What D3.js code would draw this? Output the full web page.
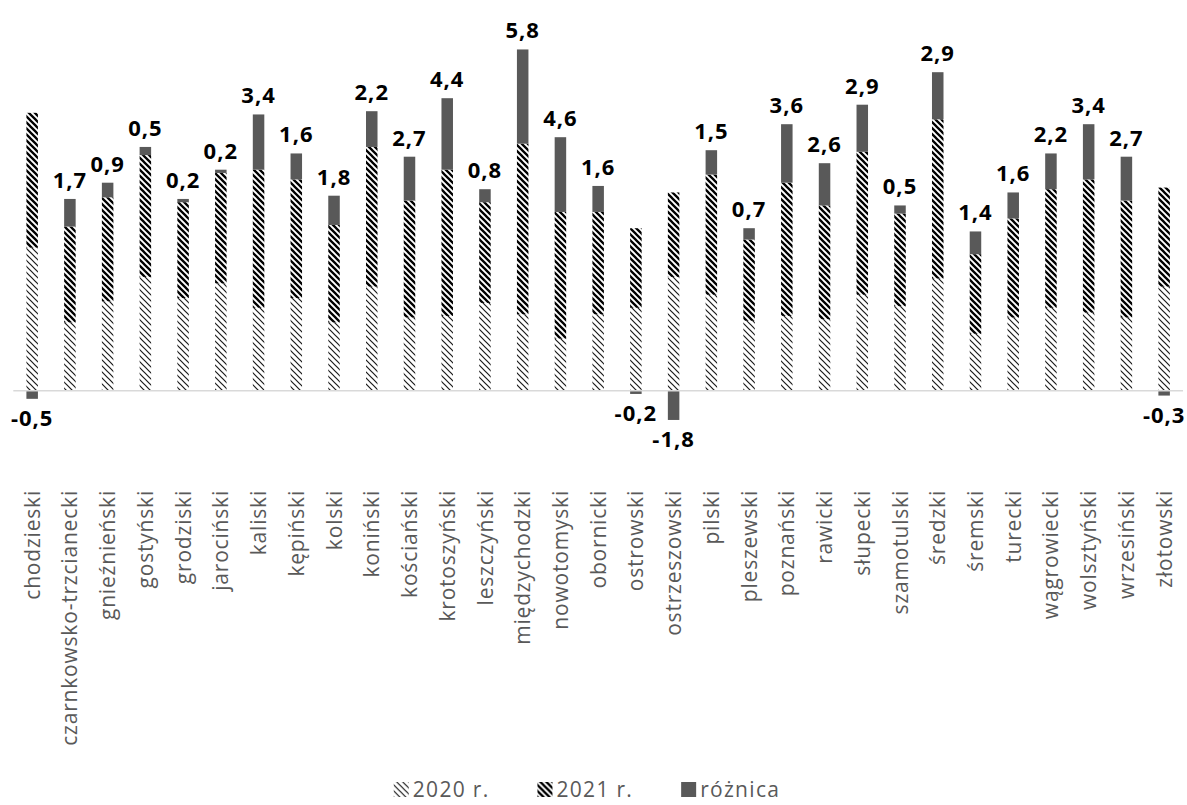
<!DOCTYPE html>
<html lang="pl">
<head>
<meta charset="utf-8">
<script src="https://cdn.jsdelivr.net/npm/d3@7"></script>
<style>
  html, body { margin: 0; padding: 0; background: #fff; }
  svg { display: block; }
</style>
</head>
<body>
<svg id="chart" width="1187" height="805"></svg>
<script>
// Powiaty
const categories = [
  "chodzieski", "czarnkowsko-trzcianecki", "gnieźnieński", "gostyński", "grodziski",
  "jarociński", "kaliski", "kępiński", "kolski", "koniński", "kościański",
  "krotoszyński", "leszczyński", "międzychodzki", "nowotomyski", "obornicki",
  "ostrowski", "ostrzeszowski", "pilski", "pleszewski", "poznański", "rawicki",
  "słupecki", "szamotulski", "średzki", "śremski", "turecki", "wągrowiecki",
  "wolsztyński", "wrzesiński", "złotowski"
];

const v2020 = [8.8, 4.2, 5.5, 7.0, 5.7, 6.6, 5.1, 5.7, 4.2, 6.4, 4.5, 4.6, 5.4, 4.7, 3.2, 4.7,
               5.1, 7.0, 5.9, 4.3, 4.6, 4.4, 5.9, 5.2, 6.9, 3.5, 4.5, 5.1, 4.8, 4.5, 6.4];
const v2021 = [8.3, 5.9, 6.4, 7.5, 5.9, 6.8, 8.5, 7.3, 6.0, 8.6, 7.2, 9.0, 6.2, 10.5, 7.8, 6.3,
               4.9, 5.2, 7.4, 5.0, 8.2, 7.0, 8.8, 5.7, 9.8, 4.9, 6.1, 7.3, 8.2, 7.2, 6.1];
const roznica = [-0.5, 1.7, 0.9, 0.5, 0.2, 0.2, 3.4, 1.6, 1.8, 2.2, 2.7, 4.4, 0.8, 5.8, 4.6, 1.6,
                 -0.2, -1.8, 1.5, 0.7, 3.6, 2.6, 2.9, 0.5, 2.9, 1.4, 1.6, 2.2, 3.4, 2.7, -0.3];

const seriesNames = ["2020 r.", "2021 r.", "różnica"];

const svg = d3.select("#chart");
const defs = svg.append("defs");

// downward diagonal hatch fills
function hatch(id, width, color) {
  const s = 6;
  const p = defs.append("pattern")
    .attr("id", id)
    .attr("patternUnits", "userSpaceOnUse")
    .attr("width", s).attr("height", s);
  p.append("rect").attr("width", s).attr("height", s).attr("fill", "#fff");
  p.append("path")
    .attr("d", `M-1,-1L${s + 1},${s + 1}M-1,${s - 1}L1,${s + 1}M${s - 1},-1L${s + 1},1`)
    .attr("stroke", color)
    .attr("stroke-width", width);
}
hatch("hatchLight", 1.2, "#1a1a1a");
hatch("hatchDark", 2.3, "#000");

const fills = ["url(#hatchLight)", "url(#hatchDark)", "#595959"];

const x = d3.scaleBand()
  .domain(categories)
  .range([13.3, 1183])
  .paddingInner(0.695)
  .paddingOuter(0.3475);

const y = d3.scaleLinear()
  .domain([-2, 21])
  .range([423.2, 49.45]);

const rows = categories.map((c, i) => ({ c, a: v2020[i], b: v2021[i], d: roznica[i] }));

const g = svg.append("g");

// 2020 r.
g.selectAll("rect.s2020").data(rows).join("rect")
  .attr("class", "s2020")
  .attr("x", r => x(r.c))
  .attr("width", x.bandwidth())
  .attr("y", r => y(r.a))
  .attr("height", r => y(0) - y(r.a))
  .attr("fill", fills[0]);

// 2021 r. stacked on 2020 r.
g.selectAll("rect.s2021").data(rows).join("rect")
  .attr("class", "s2021")
  .attr("x", r => x(r.c))
  .attr("width", x.bandwidth())
  .attr("y", r => y(r.a + r.b))
  .attr("height", r => y(r.a) - y(r.a + r.b))
  .attr("fill", fills[1]);

// różnica: positive on top of the stack, negative below zero
g.selectAll("rect.diff").data(rows).join("rect")
  .attr("class", "diff")
  .attr("x", r => x(r.c))
  .attr("width", x.bandwidth())
  .attr("y", r => r.d >= 0 ? y(r.a + r.b + r.d) : y(0))
  .attr("height", r => r.d >= 0 ? y(r.a + r.b) - y(r.a + r.b + r.d) : y(r.d) - y(0))
  .attr("fill", fills[2]);

// zero line
svg.append("line")
  .attr("x1", 13.3).attr("x2", 1183)
  .attr("y1", y(0)).attr("y2", y(0))
  .attr("stroke", "#d9d9d9")
  .attr("stroke-width", 1.5);

// value labels
const fmt = v => d3.format(".1f")(v).replace(".", ",").replace("−", "-");
g.selectAll("text.val").data(rows).join("text")
  .attr("class", "val")
  .attr("x", r => x(r.c) + x.bandwidth() / 2)
  .attr("y", r => r.d >= 0 ? y(r.a + r.b + r.d) - 11 : y(r.d) + 27)
  .attr("text-anchor", "middle")
  .attr("font-family", "'Open Sans', sans-serif")
  .attr("font-weight", "bold")
  .attr("font-size", 22)
  .attr("letter-spacing", 1)
  .attr("fill", "#000")
  .text(r => fmt(r.d));

// category axis labels
const xAxis = d3.axisBottom(x).tickSize(0).tickPadding(0);
const ax = svg.append("g")
  .attr("transform", `translate(0,490)`)
  .call(xAxis);
ax.select(".domain").remove();
ax.selectAll(".tick text")
  .attr("transform", "rotate(-90)")
  .attr("x", 0)
  .attr("y", 0)
  .attr("dy", "0.36em")
  .attr("text-anchor", "end")
  .attr("font-family", "'Open Sans', sans-serif")
  .attr("font-size", 21)
  .attr("letter-spacing", 0.8)
  .attr("fill", "#595959");

// legend
const legend = svg.append("g").attr("transform", "translate(0,797)");
const items = legend.selectAll("g").data(seriesNames).join("g");
items.append("rect")
  .attr("y", -15).attr("width", 15).attr("height", 15)
  .attr("fill", (d, i) => fills[i]);
items.append("text")
  .attr("x", 19)
  .attr("font-family", "'Open Sans', sans-serif")
  .attr("font-size", 21)
  .attr("letter-spacing", 1.3)
  .attr("fill", "#595959")
  .text(d => d);
const gap = 48;
const widths = [];
items.each(function () { widths.push(19 + this.querySelector("text").getComputedTextLength()); });
const total = d3.sum(widths) + gap * (widths.length - 1);
let start = 587 - total / 2;
items.attr("transform", (d, i) => {
  const t = `translate(${start},0)`;
  start += widths[i] + gap;
  return t;
});
</script>
</body>
</html>
